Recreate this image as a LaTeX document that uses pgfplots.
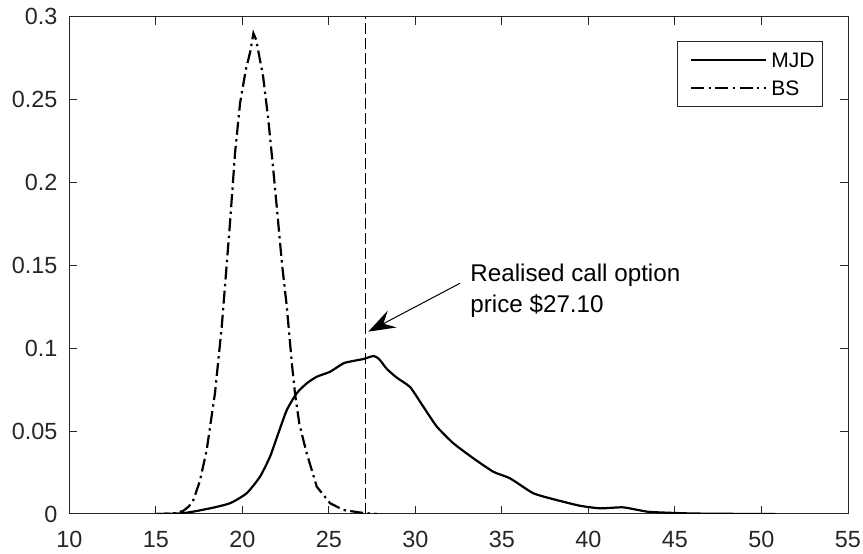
\documentclass[border=0pt]{standalone}
\usepackage{fontspec}
\setmainfont{Liberation Sans}
\usepackage{pgfplots}
\pgfplotsset{compat=1.18}
\usetikzlibrary{arrows.meta, calc}
\definecolor{axgray}{gray}{0.15}

\begin{document}
\begin{tikzpicture}
\begin{axis}[
    scale only axis,
    width=389.35pt, height=248.65pt,
    xmin=10, xmax=55, ymin=0, ymax=0.3,
    xtick={10,15,20,25,30,35,40,45,50,55},
    ytick={0,0.05,0.1,0.15,0.2,0.25,0.3},
    yticklabels={0,0.05,0.1,0.15,0.2,0.25,0.3},
    tick align=inside,
    major tick length=4pt,
    axis line style={axgray, line width=0.5pt},
    tick style={axgray, line width=0.5pt},
    ticklabel style={font=\fontsize{11.7}{14}\selectfont, text=axgray},
    /pgf/number format/assume math mode=true,
    xticklabel style={anchor=north, yshift=-5pt},
    yticklabel shift=2.4pt,
    legend cell align=left,
    legend image code/.code={\path (-2.85pt,0pt); \draw[#1] (0pt,0pt) -- (37.5pt,0pt);},
    legend style={at={(1,1)}, anchor=north east, xshift=-12.5pt, yshift=-12.2pt,
        draw=axgray, line width=0.5pt, font=\fontsize{10.5}{13}\selectfont,
        inner xsep=3.5pt, inner ysep=2.2pt,
        /tikz/every odd column/.append style={column sep=1.5pt},
        nodes={inner xsep=0.5pt, inner ysep=2pt, text height=9pt, text depth=1pt}},
]
% MJD density
\addplot[black, line width=1.1pt, smooth, tension=0.35] coordinates {
    (15.0,0) (16.6,0.0005) (18.13,0.0034) (19.29,0.0065) (20.25,0.0125)
    (21.02,0.0225) (21.6,0.0346) (22.08,0.0487) (22.57,0.0627) (23.14,0.0728)
    (23.72,0.0788) (24.3,0.0828) (25.07,0.0858) (25.84,0.0909) (26.4,0.0923)
    (27.0,0.0935) (27.3,0.0945) (27.6,0.0953) (27.9,0.0935) (28.35,0.0875)
    (28.93,0.0822) (29.7,0.0765) (30.46,0.0647) (31.24,0.0527) (32.2,0.0426)
    (33.35,0.0336) (34.5,0.0255) (35.47,0.0215) (36.82,0.0125) (38.17,0.0084)
    (39.5,0.005) (40.7,0.0034) (42.0,0.004) (43.4,0.0014) (44.5,0.0008)
    (46,0.0003) (48,0.0001) (50.8,0)
};
\addlegendentry{MJD}
% BS density
\addplot[black, line width=1.1pt, dash pattern=on 6.5pt off 2.2pt on 1.2pt off 2.2pt] coordinates {
    (15.0,0) (15.6,0.0001) (16.2,0.0006) (16.6,0.002) (16.9,0.0045) (17.17,0.0084)
    (17.55,0.02) (17.94,0.0386) (18.42,0.073) (18.81,0.113) (19.1,0.151)
    (19.29,0.176) (19.58,0.218) (19.87,0.248) (20.2,0.268) (20.46,0.279) (20.64,0.290)
    (20.8,0.286) (21.2,0.264) (21.5,0.238) (21.79,0.2075) (22.08,0.175)
    (22.3,0.150) (22.57,0.125) (22.86,0.091) (23.05,0.072) (23.3,0.054)
    (23.72,0.0366) (24.3,0.0165) (25.07,0.0065) (25.84,0.0024) (27.0,0.0006)
    (27.8,0)
};
\addlegendentry{BS}
% realised price
\addplot[black, line width=0.6pt, dash pattern=on 5.5pt off 2pt, forget plot] coordinates {
    (27.1,0) (27.1,0.3)
};
\draw[black, line width=0.5pt, -{Stealth[length=13.5pt, width=9.5pt, inset=5pt]}]
    (axis cs:32.58,0.1392) -- (axis cs:27.28,0.110);
\node[anchor=base west, inner sep=0pt, font=\fontsize{12.1}{14}\selectfont]
    at (axis cs:33.16,0.1401) {Realised call option};
\node[anchor=base west, inner sep=0pt, font=\fontsize{12.1}{14}\selectfont]
    at (axis cs:33.16,0.1214) {price \$27.10};
\end{axis}
\pgfresetboundingbox
\path ($(current axis.south west)+(-34.65pt,-20pt)$) rectangle ($(current axis.north east)+(7.5pt,8.35pt)$);
\end{tikzpicture}
\end{document}
